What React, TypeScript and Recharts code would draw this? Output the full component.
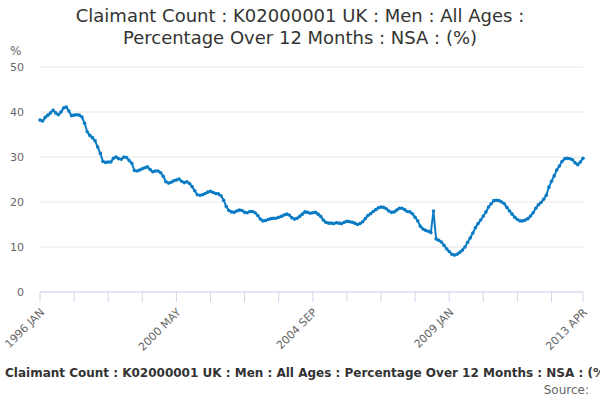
import { CartesianGrid, Line, LineChart, XAxis, YAxis } from "recharts";

// monthly series, 1996 JAN .. 2013 APR
const startYear = 1996;
const monthNames = ["JAN", "FEB", "MAR", "APR", "MAY", "JUN", "JUL", "AUG", "SEP", "OCT", "NOV", "DEC"];

const values: number[] = [
  // 1996
  38.2, 38.0, 38.8, 39.3, 39.8, 40.4, 39.8, 39.4, 40.0, 40.9, 41.1, 40.2,
  // 1997
  39.2, 39.3, 39.4, 39.3, 38.9, 37.5, 35.6, 34.8, 34.3, 33.6, 32.2, 30.8,
  // 1998
  29.0, 28.8, 28.9, 28.9, 29.7, 30.0, 29.6, 29.5, 30.0, 29.9, 29.2, 28.6,
  // 1999
  27.0, 26.9, 27.1, 27.4, 27.6, 27.8, 27.2, 26.7, 26.9, 26.9, 26.5, 25.7,
  // 2000
  24.5, 24.2, 24.4, 24.7, 24.9, 25.1, 24.6, 24.3, 24.5, 24.1, 23.4, 22.5,
  // 2001
  21.6, 21.5, 21.6, 21.9, 22.2, 22.4, 22.1, 21.9, 21.8, 21.4, 20.4, 19.0,
  // 2002
  18.1, 17.8, 17.7, 18.0, 18.2, 18.1, 17.7, 17.6, 17.9, 17.9, 17.6, 17.0,
  // 2003
  16.2, 15.8, 15.9, 16.1, 16.3, 16.4, 16.4, 16.6, 16.8, 17.1, 17.3, 17.1,
  // 2004
  16.5, 16.2, 16.4, 16.8, 17.3, 17.8, 17.7, 17.5, 17.6, 17.7, 17.3, 16.8,
  // 2005
  16.0, 15.5, 15.3, 15.3, 15.2, 15.4, 15.3, 15.2, 15.5, 15.7, 15.6, 15.5,
  // 2006
  15.3, 15.0, 15.2, 15.6, 16.3, 17.0, 17.4, 17.9, 18.3, 18.7, 18.9, 18.8,
  // 2007
  18.5, 18.0, 17.7, 17.8, 18.2, 18.6, 18.6, 18.3, 17.9, 17.8, 17.4, 16.6,
  // 2008
  15.8, 14.6, 14.0, 13.7, 13.5, 13.2, 18.0, 11.8, 11.5, 11.1, 10.4, 9.6,
  // 2009
  9.0, 8.4, 8.2, 8.4, 8.8, 9.3, 10.0, 11.0, 12.0, 13.1, 14.3, 15.2,
  // 2010
  16.0, 16.9, 17.8, 18.9, 19.6, 20.3, 20.4, 20.3, 20.0, 19.6, 18.8, 18.0,
  // 2011
  17.3, 16.6, 16.1, 15.8, 15.8, 16.0, 16.3, 16.9, 17.6, 18.6, 19.4, 19.9,
  // 2012
  20.6, 21.5, 23.3, 24.6, 25.8, 27.1, 28.0, 29.0, 29.6, 29.7, 29.6, 29.4,
  // 2013
  28.7, 28.3, 28.9, 29.7,
];

const yTicks = [0, 10, 20, 30, 40, 50];
const labelledIdx = [0, 52, 104, 156, 207];
const xTicks = [0, 13, 26, 39, 52, 65, 78, 91, 104, 117, 130, 143, 156, 169, 182, 195, 207];

const monthLabel = (i: number) =>
  `${startYear + Math.floor(i / 12)} ${monthNames[i % 12]}`;

const data = values.map((v, i) => ({ idx: i, month: monthLabel(i), value: v }));

const FONT = '"DejaVu Sans", sans-serif';

function XTick({ x, y, payload }: any) {
  if (!labelledIdx.includes(payload.value)) return null;
  const tx = x + 5;
  const ty = y + 9;
  return (
    <text
      x={tx}
      y={ty}
      textAnchor="end"
      fontSize={11}
      fill="#666"
      fontFamily={FONT}
      transform={`rotate(-45, ${tx}, ${ty})`}
    >
      {monthLabel(payload.value)}
    </text>
  );
}

export default function App() {
  return (
    <div style={{ position: "absolute", left: 0, top: 0, width: 600, height: 400, background: "#fff", fontFamily: FONT }}>
      <div
        style={{
          position: "absolute",
          left: 0,
          top: 5,
          width: 600,
          textAlign: "center",
          fontSize: 18,
          lineHeight: "22px",
          color: "#333",
        }}
      >
        Claimant Count : K02000001 UK : Men : All Ages :<br />
        Percentage Over 12 Months : NSA : (%)
      </div>
      <div style={{ position: "absolute", left: 10, top: 44, fontSize: 12, color: "#666" }}>%</div>

      <LineChart
        width={600}
        height={400}
        data={data}
        margin={{ top: 67, right: 17, left: 0, bottom: 0 }}
        style={{ fontFamily: FONT }}
      >
        <CartesianGrid horizontal vertical={false} stroke="#e6e6e6" />
        <XAxis
          dataKey="idx"
          type="number"
          domain={[0, 207]}
          ticks={xTicks}
          interval={0}
          height={108}
          stroke="#ccd6eb"
          tickSize={10}
          tickMargin={2}
          tick={<XTick />}
        />
        <YAxis
          width={40}
          domain={[0, 50]}
          ticks={yTicks}
          axisLine={false}
          tickLine={false}
          tickSize={0}
          tickMargin={16}
          tick={{ fill: "#666", fontSize: 11, fontFamily: FONT }}
        />
        <Line
          type="linear"
          dataKey="value"
          stroke="#0a7bc4"
          strokeWidth={2}
          dot={{ r: 1.8, fill: "#0a7bc4", stroke: "none" }}
          isAnimationActive={false}
        />
      </LineChart>

      <div
        style={{
          position: "absolute",
          left: 5,
          top: 366,
          width: 595,
          whiteSpace: "nowrap",
          overflow: "hidden",
          fontSize: 12,
          fontWeight: "bold",
          color: "#333",
        }}
      >
        Claimant Count : K02000001 UK : Men : All Ages : Percentage Over 12 Months : NSA : (%)
      </div>
      <div style={{ position: "absolute", right: 11, top: 383, fontSize: 12, color: "#666" }}>Source:</div>
    </div>
  );
}
